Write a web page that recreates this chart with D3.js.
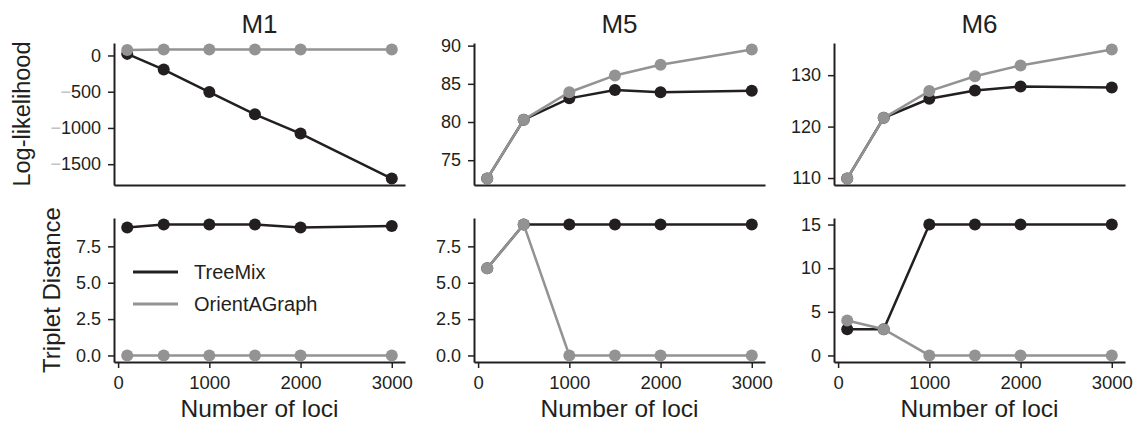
<!DOCTYPE html>
<html>
<head>
<meta charset="utf-8">
<script src="https://cdn.jsdelivr.net/npm/d3@7"></script>
<style>
  body { margin: 0; background: #fff; }
  svg text { font-family: "Liberation Sans", Arial, Helvetica, sans-serif; fill: #231f20; }
</style>
</head>
<body>
<script>
// data
var loci = [100, 500, 1000, 1500, 2000, 3000];
var xTicks = [0, 1000, 2000, 3000];
var titles = ["M1", "M5", "M6"];
var seriesNames = ["TreeMix", "OrientAGraph"];

var m1LikTreeMix = [22, -195, -505, -812, -1078, -1698];
var m1LikOrient  = [76, 81, 83, 83, 83, 83];
var m5LikTreeMix = [72.6, 80.3, 83.1, 84.2, 83.9, 84.1];
var m5LikOrient  = [72.6, 80.3, 83.9, 86.1, 87.5, 89.5];
var m6LikTreeMix = [109.9, 121.7, 125.4, 127.0, 127.8, 127.6];
var m6LikOrient  = [109.9, 121.7, 126.9, 129.8, 131.9, 135.0];

var m1TripTreeMix = [8.8, 9, 9, 9, 8.8, 8.9];
var m1TripOrient  = [0, 0, 0, 0, 0, 0];
var m5TripTreeMix = [6, 9, 9, 9, 9, 9];
var m5TripOrient  = [6, 9, 0, 0, 0, 0];
var m6TripTreeMix = [3, 3, 15, 15, 15, 15];
var m6TripOrient  = [4, 3, 0, 0, 0, 0];

var likTicks  = [[0, -500, -1000, -1500], [75, 80, 85, 90], [110, 120, 130]];
var tripTicks = [[0, 2.5, 5, 7.5], [0, 2.5, 5, 7.5], [0, 5, 10, 15]];
var tripFormat = [".1f", ".1f", "d"];

var width = 1137, height = 425;
var black = "#231f20", grey = "#939393";
var colors = [black, grey];
var colLeft = [114, 474, 834];
var axW = 291;
var rowTop = [43, 218], rowBottom = [185, 362];

var svg = d3.select("body").append("svg")
  .attr("width", width)
  .attr("height", height);

var likData = [[m1LikTreeMix, m1LikOrient], [m5LikTreeMix, m5LikOrient], [m6LikTreeMix, m6LikOrient]];
var tripData = [[m1TripTreeMix, m1TripOrient], [m5TripTreeMix, m5TripOrient], [m6TripTreeMix, m6TripOrient]];

// matplotlib-like 5% margins
function padded(arr) {
  var ext = d3.extent(arr);
  var p = (ext[1] - ext[0]) * 0.05;
  return [ext[0] - p, ext[1] + p];
}

function panel(col, row, series, ticks, fmt, showX) {
  var x0 = colLeft[col];
  var xExt = d3.extent(loci), xp = (xExt[1] - xExt[0]) * 0.05;
  var x = d3.scaleLinear().domain([xExt[0] - xp, xExt[1] + xp]).range([x0, x0 + axW]);
  var y = d3.scaleLinear().domain(padded(series[0].concat(series[1]))).range([rowBottom[row], rowTop[row]]);

  var yAxis = svg.append("g")
    .attr("transform", "translate(" + x0 + ",0)")
    .call(d3.axisLeft(y).tickValues(ticks).tickFormat(d3.format(fmt)).tickSize(6).tickPadding(7).tickSizeOuter(0));
  yAxis.select(".domain").attr("stroke", black).attr("stroke-width", 2);
  yAxis.selectAll(".tick line").attr("stroke", black).attr("stroke-width", 1.5);
  yAxis.selectAll(".tick text").attr("font-size", "18px").attr("fill", black)
    .each(function() {
      var t = d3.select(this), s = t.text();
      if (s.charAt(0) === "\u2212") {
        t.text(null);
        t.append("tspan").attr("fill", "#c4c4c4").text("\u2212");
        t.append("tspan").text(s.slice(1));
      }
    });

  var xAxis = d3.axisBottom(x).tickValues(showX ? xTicks : []).tickFormat(d3.format("d"))
    .tickSize(6).tickPadding(8).tickSizeOuter(0);
  var xg = svg.append("g")
    .attr("transform", "translate(0," + rowBottom[row] + ")")
    .call(xAxis);
  xg.select(".domain").attr("stroke", black).attr("stroke-width", 2);
  xg.selectAll(".tick line").attr("stroke", black).attr("stroke-width", 1.5);
  xg.selectAll(".tick text").attr("font-size", "18.5px").attr("fill", black);

  var line = d3.line()
    .x(function(d, i) { return x(loci[i]); })
    .y(function(d) { return y(d); });

  series.forEach(function(vals, s) {
    var g = svg.append("g");
    g.append("path")
      .attr("d", line(vals))
      .attr("fill", "none")
      .attr("stroke", colors[s])
      .attr("stroke-width", 2.5);
    g.selectAll("circle")
      .data(vals)
      .enter().append("circle")
      .attr("cx", function(d, i) { return x(loci[i]); })
      .attr("cy", function(d) { return y(d); })
      .attr("r", 6)
      .attr("fill", colors[s]);
  });

  if (showX) {
    svg.append("text")
      .attr("x", x0 + axW / 2)
      .attr("y", 417)
      .attr("text-anchor", "middle")
      .attr("font-size", "24.5px")
      .text("Number of loci");
  }
}

for (var c = 0; c < 3; c++) {
  panel(c, 0, likData[c], likTicks[c], "d", false);
  panel(c, 1, tripData[c], tripTicks[c], tripFormat[c], true);

  svg.append("text")
    .attr("x", colLeft[c] + axW / 2)
    .attr("y", 33)
    .attr("text-anchor", "middle")
    .attr("font-size", "26px")
    .text(titles[c]);
}

// y labels
svg.append("text")
  .attr("transform", "translate(30," + (rowTop[0] + rowBottom[0]) / 2 + ") rotate(-90)")
  .attr("text-anchor", "middle")
  .attr("font-size", "23.5px")
  .text("Log-likelihood");

svg.append("text")
  .attr("transform", "translate(60," + (rowTop[1] + rowBottom[1]) / 2 + ") rotate(-90)")
  .attr("text-anchor", "middle")
  .attr("font-size", "24px")
  .text("Triplet Distance");

// legend
var legend = svg.append("g").attr("transform", "translate(133,272)");
seriesNames.forEach(function(name, i) {
  legend.append("line")
    .attr("x1", 0).attr("x2", 45)
    .attr("y1", i * 32).attr("y2", i * 32)
    .attr("stroke", colors[i])
    .attr("stroke-width", 3);
  legend.append("text")
    .attr("x", 61)
    .attr("y", i * 32)
    .attr("dy", "0.35em")
    .attr("font-size", "20px")
    .text(name);
});
</script>
</body>
</html>
